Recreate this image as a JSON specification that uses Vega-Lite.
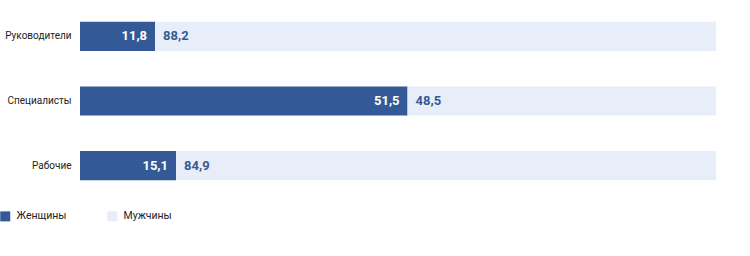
{
  "$schema": "https://vega.github.io/schema/vega-lite/v6.json",
  "width": 636,
  "height": 194,
  "padding": {"left": 0, "top": 4, "right": 0, "bottom": 0},
  "background": "white",
  "config": {
    "view": {"stroke": null},
    "font": "Roboto",
    "locale": {"number": {"decimal": ",", "thousands": " ", "grouping": [3], "currency": ["", ""]}}
  },
  "data": {
    "values": [
      {"category": "Руководители", "gender": "Женщины", "value": 11.8},
      {"category": "Руководители", "gender": "Мужчины", "value": 88.2},
      {"category": "Специалисты", "gender": "Женщины", "value": 51.5},
      {"category": "Специалисты", "gender": "Мужчины", "value": 48.5},
      {"category": "Рабочие", "gender": "Женщины", "value": 15.1},
      {"category": "Рабочие", "gender": "Мужчины", "value": 84.9}
    ]
  },
  "transform": [
    {"stack": "value", "groupby": ["category"], "sort": [{"field": "gender", "order": "ascending"}], "as": ["v0", "v1"]}
  ],
  "encoding": {
    "y": {
      "field": "category", "type": "nominal",
      "sort": ["Руководители", "Специалисты", "Рабочие"],
      "scale": {"paddingInner": 0.55, "paddingOuter": 0.275},
      "axis": {"title": null, "domain": false, "ticks": false, "labelPadding": 9, "labelFontSize": 10, "labelColor": "#222222", "labelFont": "Roboto"}
    }
  },
  "layer": [
    {
      "mark": {"type": "bar"},
      "encoding": {
        "x": {"field": "v0", "type": "quantitative", "scale": {"domain": [0, 100], "nice": false}, "axis": null},
        "x2": {"field": "v1"},
        "color": {
          "field": "gender", "type": "nominal",
          "scale": {"domain": ["Женщины", "Мужчины"], "range": ["#335a96", "#e7eef9"]},
          "legend": {
            "title": null, "orient": "none", "direction": "horizontal",
            "legendX": -80, "legendY": 207,
            "symbolType": "square", "symbolSize": 100, "symbolStrokeWidth": 0,
            "symbolOpacity": 1,
            "labelFontSize": 10.5, "labelColor": "#222222", "labelFont": "Roboto",
            "labelOffset": 6, "columnPadding": 40
          }
        }
      }
    },
    {
      "transform": [{"filter": "datum.gender === 'Женщины'"}],
      "mark": {"type": "text", "align": "right", "dx": -8, "font": "Roboto", "fontWeight": "bold", "fontSize": 13, "color": "white"},
      "encoding": {
        "x": {"field": "v1", "type": "quantitative"},
        "text": {"field": "value", "type": "quantitative", "format": ".1f"}
      }
    },
    {
      "transform": [{"filter": "datum.gender === 'Мужчины'"}],
      "mark": {"type": "text", "align": "left", "dx": 8, "font": "Roboto", "fontWeight": "bold", "fontSize": 13, "color": "#3a5a8f"},
      "encoding": {
        "x": {"field": "v0", "type": "quantitative"},
        "text": {"field": "value", "type": "quantitative", "format": ".1f"}
      }
    }
  ]
}
